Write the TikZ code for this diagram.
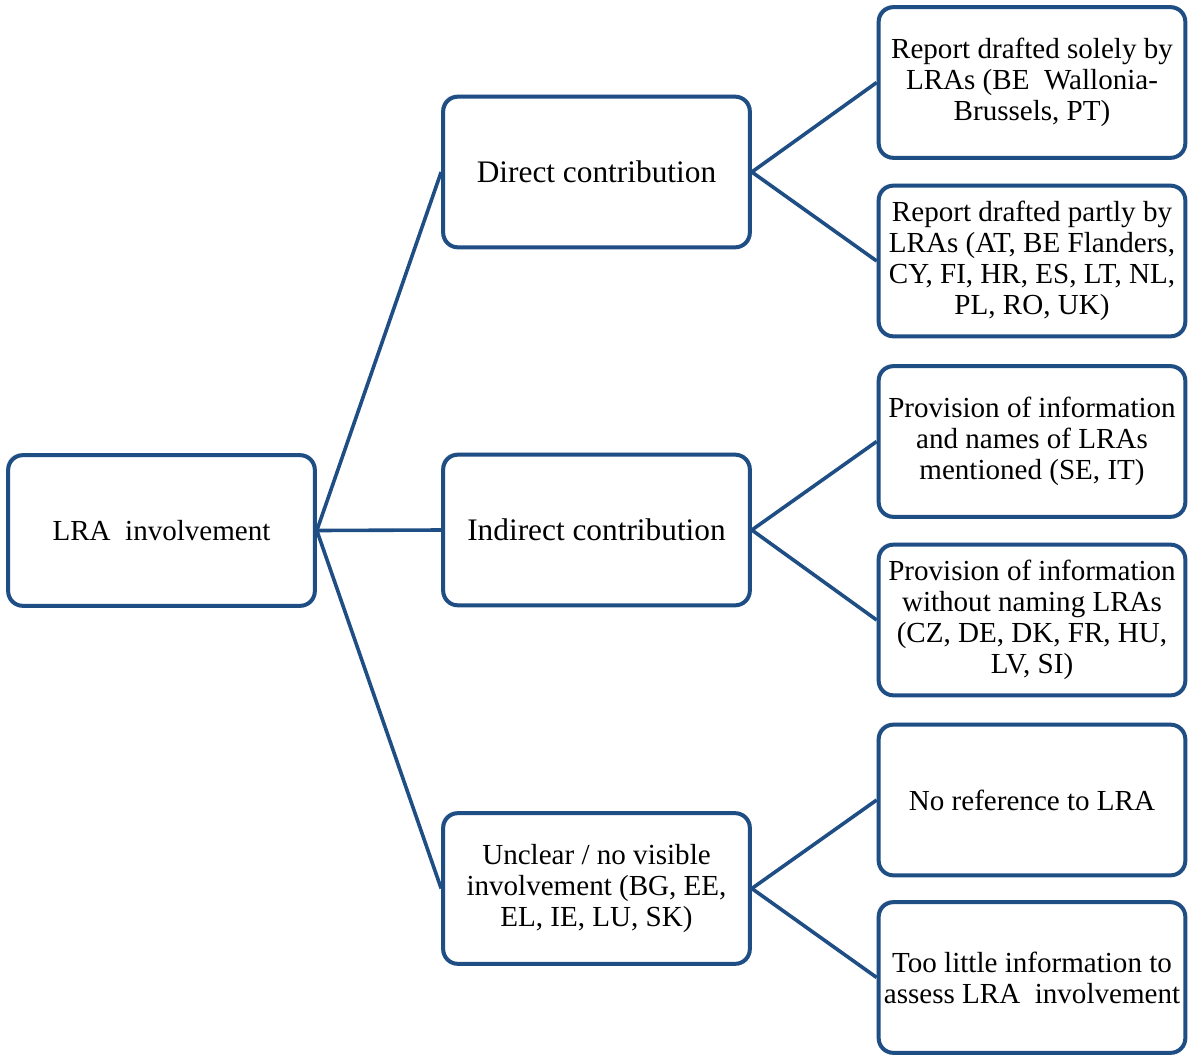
\documentclass[tikz,border=0pt]{standalone}
\usepackage{fontspec}
\setmainfont{Liberation Serif}
\usepackage{tikz}
\usetikzlibrary{shadows}
\definecolor{boxblue}{HTML}{1F4E85}

\begin{document}
\begin{tikzpicture}[x=0.75pt,y=-0.75pt,
  box/.style={draw=boxblue, line width=3pt, rounded corners=11pt, fill=white,
    minimum width=230pt, minimum height=113pt, inner sep=2pt, align=center,
    font=\fontsize{21.8}{23.4}\selectfont,
    drop shadow={shadow xshift=-1.5pt, shadow yshift=1.5pt, opacity=0.2}},
  midbox/.style={box, font=\fontsize{23.5}{23.4}\selectfont},
  link/.style={draw=boxblue, line width=2.7pt}]
\useasboundingbox (0,0) rectangle (1189,1057);
% root
\node[box] (lra) at (161.5,530.5) {LRA\ \ involvement};
% second level
\node[midbox] (direct) at (596.5,172) {Direct contribution};
\node[midbox] (indirect) at (596.5,530) {Indirect contribution};
\node[box] (unclear) at (596.5,888.5) {Unclear / no visible\\involvement (BG, EE,\\EL,\ IE,\ LU,\ SK)};
% third level
\node[box] (solely) at (1032,82.5) {Report drafted solely by\\LRAs (BE\ \ Wallonia-\\Brussels, PT)};
\node[box] (partly) at (1032,261) {Report drafted partly by\\LRAs (AT, BE\ Flanders,\\CY, FI, HR, ES, LT, NL,\\PL, RO, UK)};
\node[box] (named) at (1032,441.5) {Provision of information\\and names of LRAs\\mentioned (SE, IT)};
\node[box] (unnamed) at (1032,620) {Provision of information\\without naming LRAs\\(CZ, DE, DK, FR, HU,\\LV, SI)};
\node[box] (noref) at (1032,800) {No reference to LRA};
\node[box] (little) at (1032,977.5) {Too little information to\\assess LRA\ \ involvement};
% connectors
\draw[link] (lra.east) -- (direct.west);
\draw[link] (lra.east) -- (indirect.west);
\draw[link] (lra.east) -- (unclear.west);
\draw[link] (direct.east) -- (solely.west);
\draw[link] (direct.east) -- (partly.west);
\draw[link] (indirect.east) -- (named.west);
\draw[link] (indirect.east) -- (unnamed.west);
\draw[link] (unclear.east) -- (noref.west);
\draw[link] (unclear.east) -- (little.west);
\end{tikzpicture}
\end{document}
